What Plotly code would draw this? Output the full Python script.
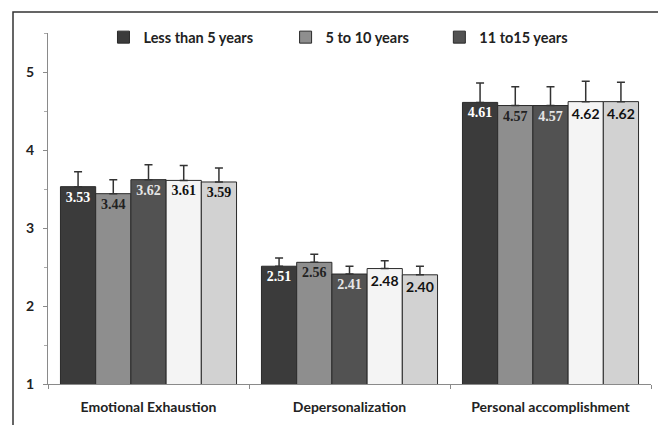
import plotly.graph_objects as go

# Burnout dimension scores by years of experience
categories = ["Emotional Exhaustion", "Depersonalization", "Personal accomplishment"]

series_names = ["Less than 5 years", "5 to 10 years", "11 to15 years", "Group 4", "Group 5"]
values = [
    [3.53, 2.51, 4.61],
    [3.44, 2.56, 4.57],
    [3.62, 2.41, 4.57],
    [3.61, 2.48, 4.62],
    [3.59, 2.40, 4.62],
]
errors = [
    [0.19, 0.105, 0.25],
    [0.18, 0.105, 0.24],
    [0.19, 0.10, 0.24],
    [0.19, 0.10, 0.26],
    [0.18, 0.11, 0.25],
]
labels = [
    ["3.53", "2.51", "4.61"],
    ["3.44", "2.56", "4.57"],
    ["3.62", "2.41", "4.57"],
    ["3.61", "2.48", "4.62"],
    ["3.59", "2.40", "4.62"],
]
y_ticks = [1, 2, 3, 4, 5]

fill_colors = ["#3b3b3b", "#8e8e8e", "#525252", "#f4f4f4", "#d2d2d2"]
serif = "Liberation Serif"
sans = "Lato"
label_fonts = [
    ([serif] * 3, ["#ffffff"] * 3),
    ([serif] * 3, ["#222222"] * 3),
    ([serif] * 3, ["#e6e6e6"] * 3),
    ([serif, sans, sans], ["#111111"] * 3),
    ([serif, sans, sans], ["#111111"] * 3),
]
legend_slots = ["legend", "legend2", "legend3", None, None]

fig = go.Figure()
for i, name in enumerate(series_names):
    fams, cols = label_fonts[i]
    fig.add_trace(go.Bar(
        x=categories,
        y=values[i],
        name=name,
        text=labels[i],
        textposition="inside",
        insidetextanchor="end",
        constraintext="none",
        textangle=0,
        textfont=dict(family=fams, color=cols, size=14, weight="bold"),
        marker=dict(color=fill_colors[i], line=dict(color="#2a2a2a", width=1)),
        error_y=dict(type="data", array=errors[i], symmetric=False,
                     arrayminus=[0, 0, 0], color="#333333", thickness=1.5, width=4),
        showlegend=legend_slots[i] is not None,
        legend=legend_slots[i] if legend_slots[i] else "legend",
    ))

legend_style = dict(orientation="h", yanchor="middle", y=0.988, xanchor="left",
                    bgcolor="rgba(0,0,0,0)", itemwidth=30,
                    font=dict(family=sans, size=14.5, color="#222222", weight="bold"))

fig.update_layout(
    width=658, height=425,
    margin=dict(l=48, r=7, t=33, b=41),
    paper_bgcolor="white", plot_bgcolor="white",
    barmode="group", bargap=0.124, bargroupgap=0,
    legend=dict(x=0.092, **legend_style),
    legend2=dict(x=0.394, **legend_style),
    legend3=dict(x=0.649, **legend_style),
    xaxis=dict(
        showline=True, linecolor="#8a8a8a", linewidth=1,
        ticks="outside", tickson="boundaries", ticklen=4, tickcolor="#8a8a8a",
        tickfont=dict(family=sans, size=14, color="#222222", weight="bold"),
        ticklabelstandoff=10,
        showgrid=False,
    ),
    yaxis=dict(
        range=[1, 5.5], tickvals=y_ticks, showline=True, linecolor="#8a8a8a",
        linewidth=1, ticks="outside", ticklen=4, tickcolor="#8a8a8a",
        minor=dict(dtick=0.5, ticks="outside", ticklen=3, tickcolor="#aaaaaa"),
        tickfont=dict(family=sans, size=14, color="#222222", weight="bold"),
        ticklabelstandoff=6,
        showgrid=False, zeroline=False,
    ),
    shapes=[dict(type="rect", xref="paper", yref="paper",
                 x0=-35 / 603, x1=1.2, y0=-0.3, y1=1 + 21 / 351,
                 line=dict(color="#333333", width=1.5), fillcolor="rgba(0,0,0,0)",
                 layer="below")],
)

fig.write_html("out.html")
